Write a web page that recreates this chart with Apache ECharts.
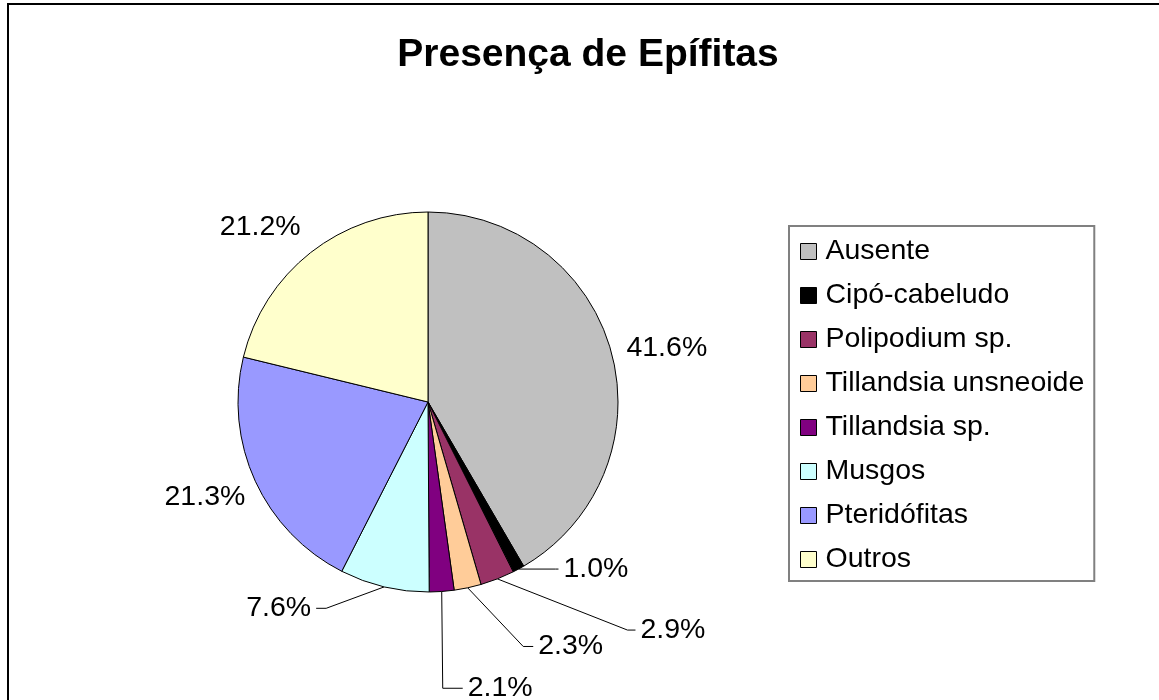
<!DOCTYPE html>
<html>
<head>
<meta charset="utf-8">
<title>Presença de Epífitas</title>
<script src="https://cdn.jsdelivr.net/npm/echarts@6/dist/echarts.min.js"></script>
<style>
  html, body { margin: 0; padding: 0; background: #fff; }
  #chart { width: 1159px; height: 700px; }
</style>
</head>
<body>
<div id="chart"></div>
<script>
// dados
const categories = ['Ausente', 'Cipó-cabeludo', 'Polipodium sp.', 'Tillandsia unsneoide',
  'Tillandsia sp.', 'Musgos', 'Pteridófitas', 'Outros'];
const percents = [41.6, 1.0, 2.9, 2.3, 2.1, 7.6, 21.3, 21.2];
const colors = ['#C0C0C0', '#000000', '#993366', '#FFCC99', '#800080', '#CCFFFF', '#9999FF', '#FFFFCC'];

// estilo dos rótulos (linha de chamada)
const lineLen = [0, 0, 55, 60, 97, 22, 0, 0];
const lineLen2 = [10, 40, 118, 53, 14, 63, 0, 0];
const showLine = [false, true, true, true, true, true, false, false];
const labelShift = [[0, -4], [0, 0], [0, 0], [0, 0], [0, 0], [0, 0], [-5, 16], [-5, -25]];
const shoulder = [0, 3, 8, 10, 20, 10, 0, 0];

const font = 'Liberation Sans, Arial, Helvetica, sans-serif';

let myChart = echarts.init(document.getElementById('chart'));

myChart.setOption({
  animation: false,
  title: {
    text: 'Presença de Epífitas',
    left: 583,
    textAlign: 'center',
    top: 31,
    textStyle: { fontFamily: font, fontSize: 39, fontWeight: 'bold', color: '#000' }
  },
  legend: {
    orient: 'vertical',
    left: 789,
    top: 226,
    padding: [11, 10, 7, 11],
    itemGap: 15,
    itemWidth: 16,
    itemHeight: 16,
    selectedMode: false,
    borderColor: '#808080',
    borderWidth: 2,
    icon: 'rect',
    itemStyle: { borderColor: '#000', borderWidth: 1 },
    textStyle: { fontFamily: font, fontSize: 28.5, color: '#000', padding: [0, 0, 0, 4] },
    data: categories
  },
  graphic: [{
    type: 'rect',
    shape: { x: 8, y: 4, width: 1300, height: 900 },
    style: { fill: null, stroke: '#000', lineWidth: 2 },
    silent: true
  }],
  series: [{
    type: 'pie',
    center: [428, 402],
    radius: 190,
    startAngle: 90,
    clockwise: true,
    avoidLabelOverlap: false,
    itemStyle: { borderColor: '#000', borderWidth: 1 },
    label: {
      show: true,
      position: 'outside',
      fontFamily: font,
      fontSize: 28.5,
      color: '#000',
      formatter: function (p) { return p.value.toFixed(1) + '%'; }
    },
    labelLine: { lineStyle: { color: '#000', width: 1 } },
    labelLayout: function (params) {
      const i = params.dataIndex;
      const sh = labelShift[i];
      const res = { dx: sh[0], dy: sh[1] };
      const pts = params.labelLinePoints;
      if (showLine[i] && pts) {
        const r = params.labelRect;
        const onRight = r.x + r.width / 2 > pts[0][0];
        const cy = r.y + r.height / 2 + sh[1];
        const edge = onRight ? r.x + sh[0] - 5 : r.x + r.width + sh[0] + 5;
        const s = onRight ? -shoulder[i] : shoulder[i];
        res.labelLinePoints = [pts[0], [edge + s, cy], [edge, cy]];
      }
      return res;
    },
    emphasis: { disabled: true },
    data: categories.map(function (name, i) {
      return {
        name: name,
        value: percents[i],
        itemStyle: { color: colors[i] },
        labelLine: { show: showLine[i], length: lineLen[i], length2: lineLen2[i] }
      };
    })
  }]
});
</script>
</body>
</html>
